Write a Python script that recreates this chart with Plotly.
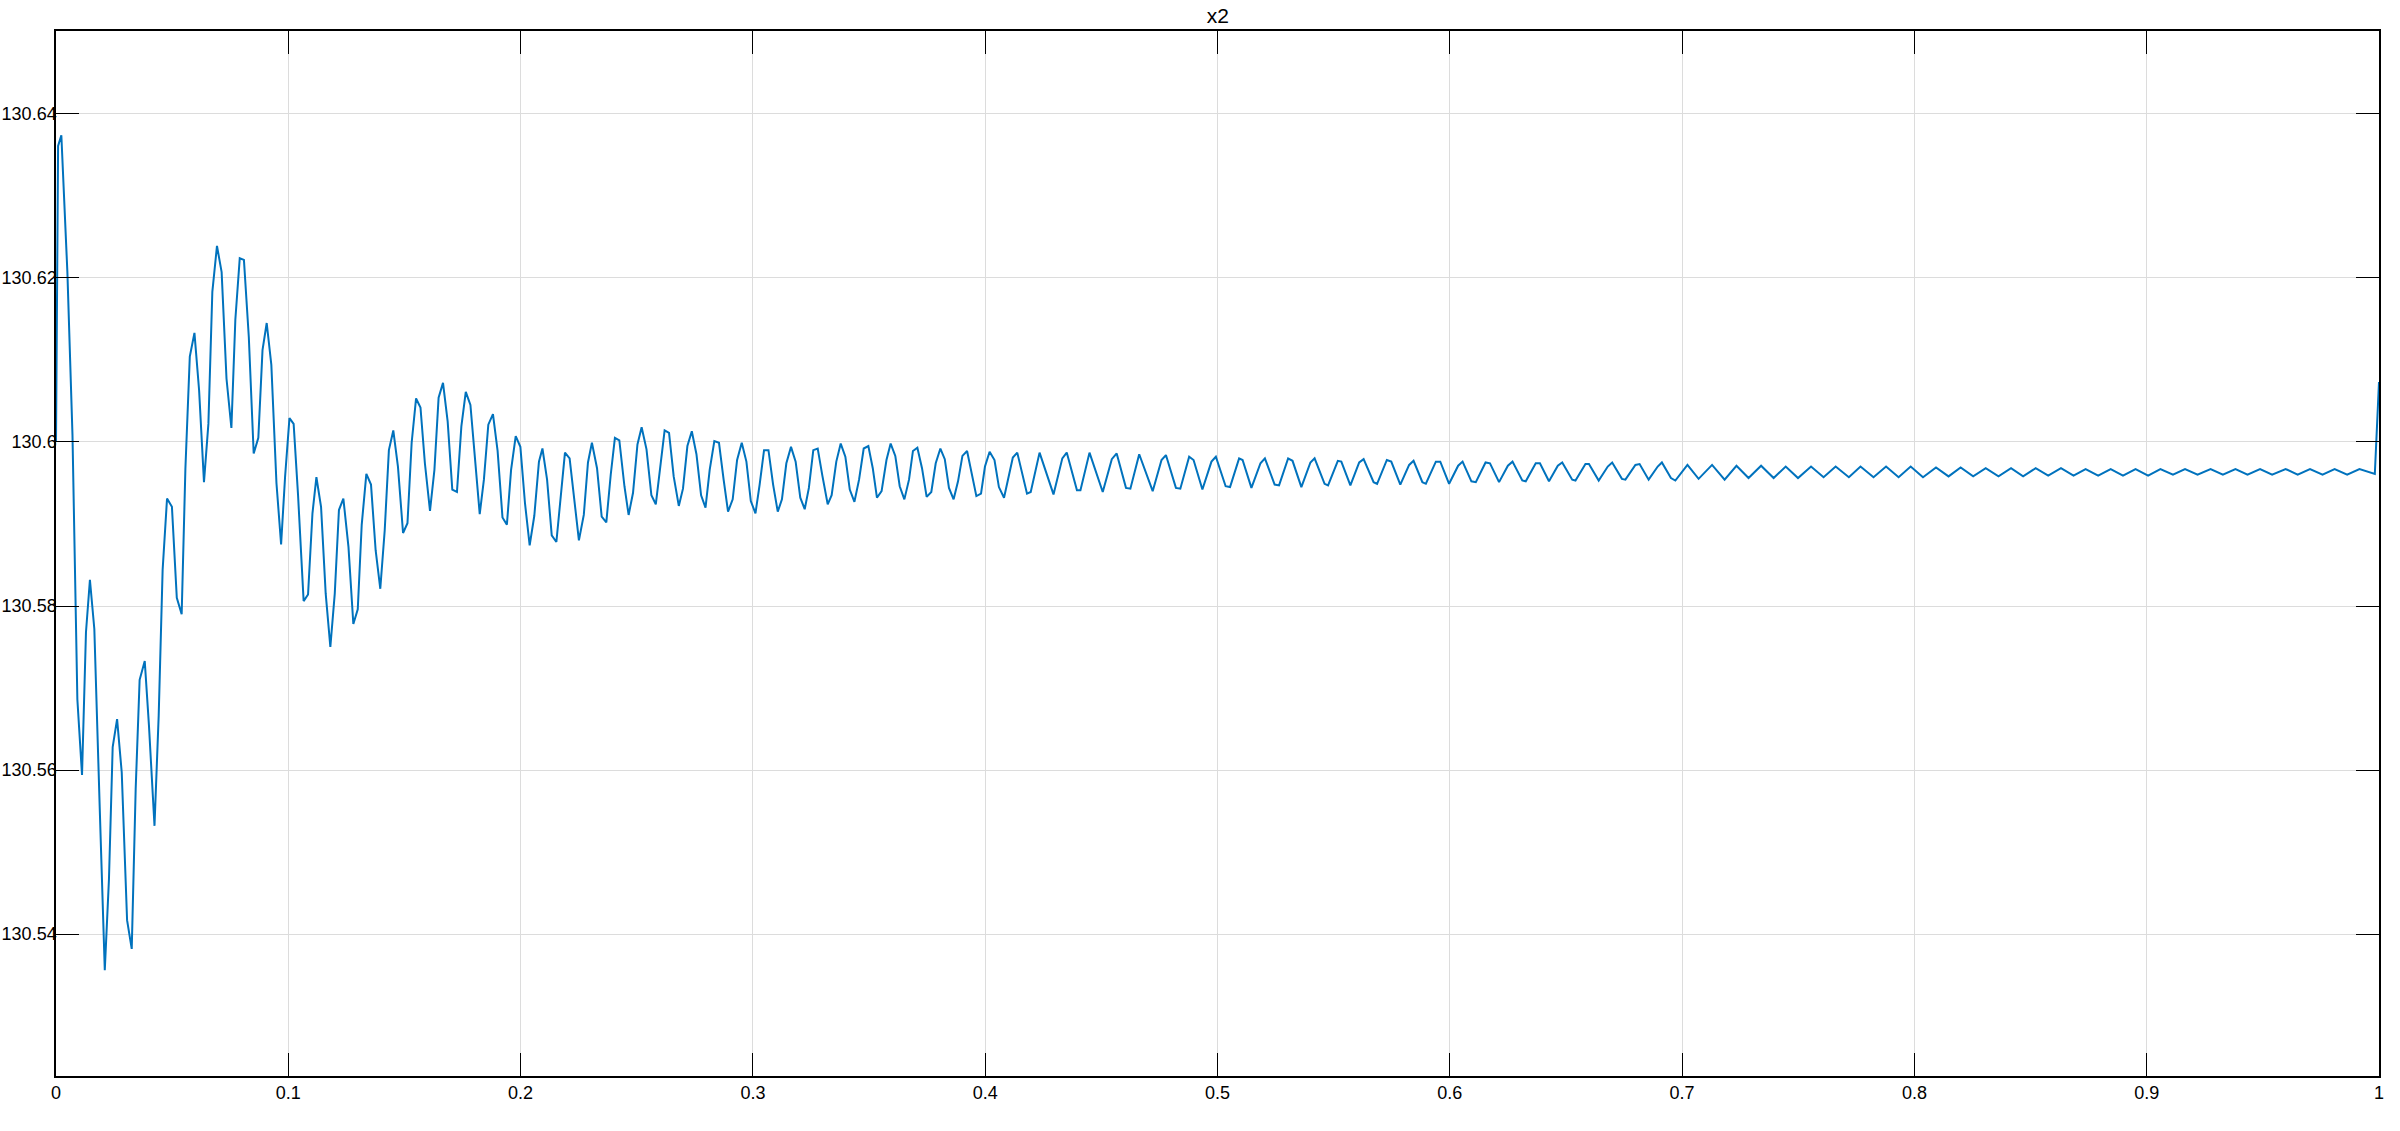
import plotly.graph_objects as go

# ---- data (time in s, value of x2) ----
# sample-by-sample part (0 .. ~0.41 s)
t_early = [
    0.0000, 0.0009, 0.0023, 0.0049, 0.0071, 0.0092, 0.0112, 0.0129, 0.0146, 0.0165,
    0.0188, 0.0210, 0.0228, 0.0244, 0.0263, 0.0283, 0.0306, 0.0326, 0.0343, 0.0360,
    0.0382, 0.0400, 0.0424, 0.0442, 0.0459, 0.0478, 0.0499, 0.0520, 0.0541, 0.0557,
    0.0576, 0.0596, 0.0616, 0.0637, 0.0656, 0.0673, 0.0693, 0.0713, 0.0734, 0.0755,
    0.0772, 0.0791, 0.0809, 0.0830, 0.0851, 0.0871, 0.0889, 0.0907, 0.0927, 0.0949,
    0.0969, 0.0986, 0.1005, 0.1023, 0.1042, 0.1066, 0.1085, 0.1104, 0.1121, 0.1141,
    0.1161, 0.1181, 0.1200, 0.1218, 0.1237, 0.1259, 0.1280, 0.1299, 0.1316, 0.1336,
    0.1356, 0.1376, 0.1396, 0.1415, 0.1433, 0.1452, 0.1472, 0.1494, 0.1513, 0.1531,
    0.1550, 0.1569, 0.1588, 0.1610, 0.1629, 0.1647, 0.1666, 0.1686, 0.1706, 0.1726,
    0.1745, 0.1764, 0.1784, 0.1804, 0.1824, 0.1842, 0.1861, 0.1881, 0.1901, 0.1922,
    0.1941, 0.1959, 0.1979, 0.1999, 0.2019, 0.2039, 0.2059, 0.2079, 0.2094, 0.2114,
    0.2134, 0.2154, 0.2174, 0.2191, 0.2211, 0.2232, 0.2251, 0.2272, 0.2290, 0.2307,
    0.2329, 0.2349, 0.2369, 0.2388, 0.2406, 0.2425, 0.2447, 0.2465, 0.2484, 0.2503,
    0.2521, 0.2542, 0.2563, 0.2582, 0.2602, 0.2620, 0.2639, 0.2659, 0.2681, 0.2699,
    0.2718, 0.2737, 0.2757, 0.2777, 0.2796, 0.2814, 0.2834, 0.2854, 0.2874, 0.2893,
    0.2913, 0.2932, 0.2952, 0.2972, 0.2991, 0.3011, 0.3029, 0.3048, 0.3067, 0.3087,
    0.3107, 0.3125, 0.3144, 0.3164, 0.3184, 0.3204, 0.3223, 0.3241, 0.3260, 0.3279,
    0.3299, 0.3322, 0.3339, 0.3359, 0.3378, 0.3398, 0.3417, 0.3437, 0.3457, 0.3477,
    0.3497, 0.3516, 0.3534, 0.3554, 0.3575, 0.3593, 0.3613, 0.3632, 0.3652, 0.3672,
    0.3689, 0.3708, 0.3728, 0.3748, 0.3768, 0.3787, 0.3807, 0.3826, 0.3844, 0.3864,
    0.3883, 0.3902, 0.3922, 0.3942, 0.3962, 0.3982, 0.3999, 0.4019, 0.4040, 0.4059,
]
v_early = [
    130.6000, 130.6361, 130.6374, 130.6207, 130.6008, 130.5686, 130.5594, 130.5768, 130.5832, 130.5772,
    130.5556, 130.5356, 130.5467, 130.5628, 130.5662, 130.5597, 130.5417, 130.5382, 130.5577, 130.5710,
    130.5733, 130.5655, 130.5532, 130.5666, 130.5844, 130.5931, 130.5921, 130.5810, 130.5790, 130.5967,
    130.6104, 130.6133, 130.6063, 130.5951, 130.6022, 130.6183, 130.6239, 130.6207, 130.6077, 130.6017,
    130.6149, 130.6224, 130.6222, 130.6128, 130.5986, 130.6005, 130.6112, 130.6145, 130.6094, 130.5950,
    130.5875, 130.5957, 130.6029, 130.6022, 130.5935, 130.5806, 130.5814, 130.5913, 130.5957, 130.5921,
    130.5815, 130.5750, 130.5815, 130.5917, 130.5931, 130.5872, 130.5778, 130.5796, 130.5899, 130.5961,
    130.5948, 130.5868, 130.5821, 130.5892, 130.5990, 130.6014, 130.5970, 130.5889, 130.5901, 130.5999,
    130.6053, 130.6042, 130.5974, 130.5916, 130.5966, 130.6054, 130.6072, 130.6025, 130.5942, 130.5939,
    130.6019, 130.6061, 130.6045, 130.5974, 130.5912, 130.5954, 130.6021, 130.6034, 130.5989, 130.5908,
    130.5899, 130.5966, 130.6007, 130.5994, 130.5925, 130.5874, 130.5910, 130.5976, 130.5992, 130.5954,
    130.5886, 130.5878, 130.5938, 130.5987, 130.5980, 130.5930, 130.5880, 130.5911, 130.5975, 130.5999,
    130.5968, 130.5909, 130.5902, 130.5960, 130.6005, 130.6002, 130.5946, 130.5911, 130.5938, 130.5997,
    130.6018, 130.5991, 130.5935, 130.5924, 130.5970, 130.6014, 130.6011, 130.5958, 130.5922, 130.5943,
    130.5995, 130.6013, 130.5985, 130.5935, 130.5920, 130.5966, 130.6001, 130.5999, 130.5954, 130.5915,
    130.5930, 130.5978, 130.5999, 130.5976, 130.5928, 130.5913, 130.5948, 130.5990, 130.5990, 130.5948,
    130.5915, 130.5930, 130.5974, 130.5994, 130.5976, 130.5932, 130.5918, 130.5944, 130.5990, 130.5992,
    130.5959, 130.5924, 130.5935, 130.5976, 130.5998, 130.5982, 130.5942, 130.5927, 130.5954, 130.5992,
    130.5995, 130.5968, 130.5932, 130.5940, 130.5978, 130.5998, 130.5983, 130.5946, 130.5930, 130.5954,
    130.5989, 130.5993, 130.5968, 130.5933, 130.5939, 130.5974, 130.5992, 130.5979, 130.5944, 130.5930,
    130.5952, 130.5983, 130.5989, 130.5962, 130.5934, 130.5937, 130.5970, 130.5988, 130.5978, 130.5945,
]

# turning points of the later, smaller oscillation (~0.41 .. 1 s)
t_late = [
    0.4081, 0.4119, 0.4138, 0.4180, 0.4196, 0.4234, 0.4294, 0.4332, 0.4351, 0.4395,
    0.4410, 0.4449, 0.4506, 0.4545, 0.4566, 0.4606, 0.4625, 0.4663, 0.4721, 0.4759,
    0.4778, 0.4821, 0.4840, 0.4878, 0.4897, 0.4935, 0.4974, 0.4993, 0.5035, 0.5054,
    0.5093, 0.5108, 0.5146, 0.5185, 0.5204, 0.5246, 0.5265, 0.5304, 0.5323, 0.5361,
    0.5400, 0.5418, 0.5461, 0.5476, 0.5518, 0.5533, 0.5572, 0.5610, 0.5629, 0.5672,
    0.5687, 0.5729, 0.5748, 0.5787, 0.5825, 0.5844, 0.5882, 0.5897, 0.5940, 0.5959,
    0.5997, 0.6036, 0.6055, 0.6093, 0.6112, 0.6154, 0.6173, 0.6212, 0.6250, 0.6270,
    0.6312, 0.6327, 0.6370, 0.6388, 0.6427, 0.6465, 0.6484, 0.6527, 0.6541, 0.6584,
    0.6599, 0.6641, 0.6680, 0.6699, 0.6741, 0.6756, 0.6799, 0.6817, 0.6856, 0.6895,
    0.6913, 0.6952, 0.6971,
    0.7023, 0.7071, 0.7129, 0.7183, 0.7234, 0.7286, 0.7340, 0.7394, 0.7446, 0.7499,
    0.7555, 0.7609, 0.7661, 0.7718, 0.7768, 0.7824, 0.7878, 0.7932, 0.7984, 0.8037,
    0.8093, 0.8147, 0.8199, 0.8253, 0.8307, 0.8362, 0.8416, 0.8468, 0.8522, 0.8576,
    0.8631, 0.8685, 0.8737, 0.8791, 0.8845, 0.8898, 0.8952, 0.9006, 0.9059, 0.9113,
    0.9165, 0.9219, 0.9275, 0.9328, 0.9382, 0.9434, 0.9488, 0.9540, 0.9598, 0.9650,
    0.9703, 0.9757, 0.9809, 0.9863, 0.9916, 0.9982, 1.0000,
]
v_late = [
    130.5932, 130.5981, 130.5987, 130.5937, 130.5939, 130.5987, 130.5936, 130.5980, 130.5987, 130.5941,
    130.5941, 130.5987, 130.5939, 130.5979, 130.5986, 130.5944, 130.5943, 130.5985, 130.5940, 130.5978,
    130.5984, 130.5944, 130.5943, 130.5982, 130.5978, 130.5942, 130.5976, 130.5982, 130.5946, 130.5945,
    130.5980, 130.5978, 130.5944, 130.5974, 130.5980, 130.5948, 130.5947, 130.5980, 130.5977, 130.5945,
    130.5975, 130.5980, 130.5949, 130.5947, 130.5977, 130.5976, 130.5947, 130.5975, 130.5979, 130.5951,
    130.5949, 130.5978, 130.5976, 130.5948, 130.5972, 130.5977, 130.5951, 130.5949, 130.5976, 130.5976,
    130.5949, 130.5971, 130.5976, 130.5952, 130.5951, 130.5975, 130.5974, 130.5951, 130.5971, 130.5976,
    130.5953, 130.5952, 130.5974, 130.5974, 130.5952, 130.5971, 130.5975, 130.5954, 130.5953, 130.5973,
    130.5973, 130.5953, 130.5970, 130.5975, 130.5955, 130.5954, 130.5972, 130.5973, 130.5954, 130.5970,
    130.5975, 130.5956, 130.5953,
    130.5972, 130.5955, 130.5972, 130.5954, 130.5971, 130.5956, 130.5971, 130.5956, 130.5970, 130.5956,
    130.5970, 130.5957, 130.5970, 130.5957, 130.5970, 130.5957, 130.5970, 130.5957, 130.5970, 130.5957,
    130.5969, 130.5958, 130.5969, 130.5958, 130.5968, 130.5958, 130.5968, 130.5958, 130.5968, 130.5959,
    130.5968, 130.5959, 130.5967, 130.5959, 130.5967, 130.5959, 130.5967, 130.5959, 130.5967, 130.5960,
    130.5967, 130.5960, 130.5967, 130.5960, 130.5967, 130.5960, 130.5967, 130.5960, 130.5967, 130.5960,
    130.5967, 130.5960, 130.5967, 130.5960, 130.5967, 130.5961, 130.6073,
]

x_ticks = [0, 0.1, 0.2, 0.3, 0.4, 0.5, 0.6, 0.7, 0.8, 0.9, 1]
x_tick_labels = ["0", "0.1", "0.2", "0.3", "0.4", "0.5", "0.6", "0.7", "0.8", "0.9", "1"]
y_ticks = [130.54, 130.56, 130.58, 130.60, 130.62, 130.64]
y_tick_labels = ["130.54", "130.56", "130.58", "130.6", "130.62", "130.64"]

t_all = t_early + t_late
v_all = v_early + v_late

FONT = "Liberation Sans, Arial, Helvetica, sans-serif"

fig = go.Figure()
fig.add_trace(go.Scatter(
    x=t_all, y=v_all, mode="lines",
    line=dict(color="#0072BD", width=2),
    showlegend=False, hoverinfo="skip",
))

axis_common = dict(
    showline=True, linecolor="black", linewidth=1.5, mirror="ticks",
    ticks="inside", ticklen=23, tickwidth=1.3, tickcolor="black",
    showgrid=True, gridcolor="#dcdcdc", gridwidth=1,
    zeroline=False, automargin=False,
    tickfont=dict(family=FONT, size=18, color="black"),
)

fig.update_layout(
    width=2400, height=1131,
    margin=dict(l=56, r=21, t=31, b=55),
    paper_bgcolor="white", plot_bgcolor="white",
    title=dict(text="x2", x=0.5074, xanchor="center", y=0.993, yanchor="top",
               font=dict(family=FONT, size=21, color="black")),
    xaxis=dict(range=[0, 1], tickvals=x_ticks, ticktext=x_tick_labels, **axis_common),
    yaxis=dict(range=[130.5227, 130.6501], tickvals=y_ticks, ticktext=y_tick_labels,
               ticklabelstandoff=-6, **axis_common),
)

fig.write_html("out.html", config={"displayModeBar": False},
               post_script="document.body.style.margin='0';")
